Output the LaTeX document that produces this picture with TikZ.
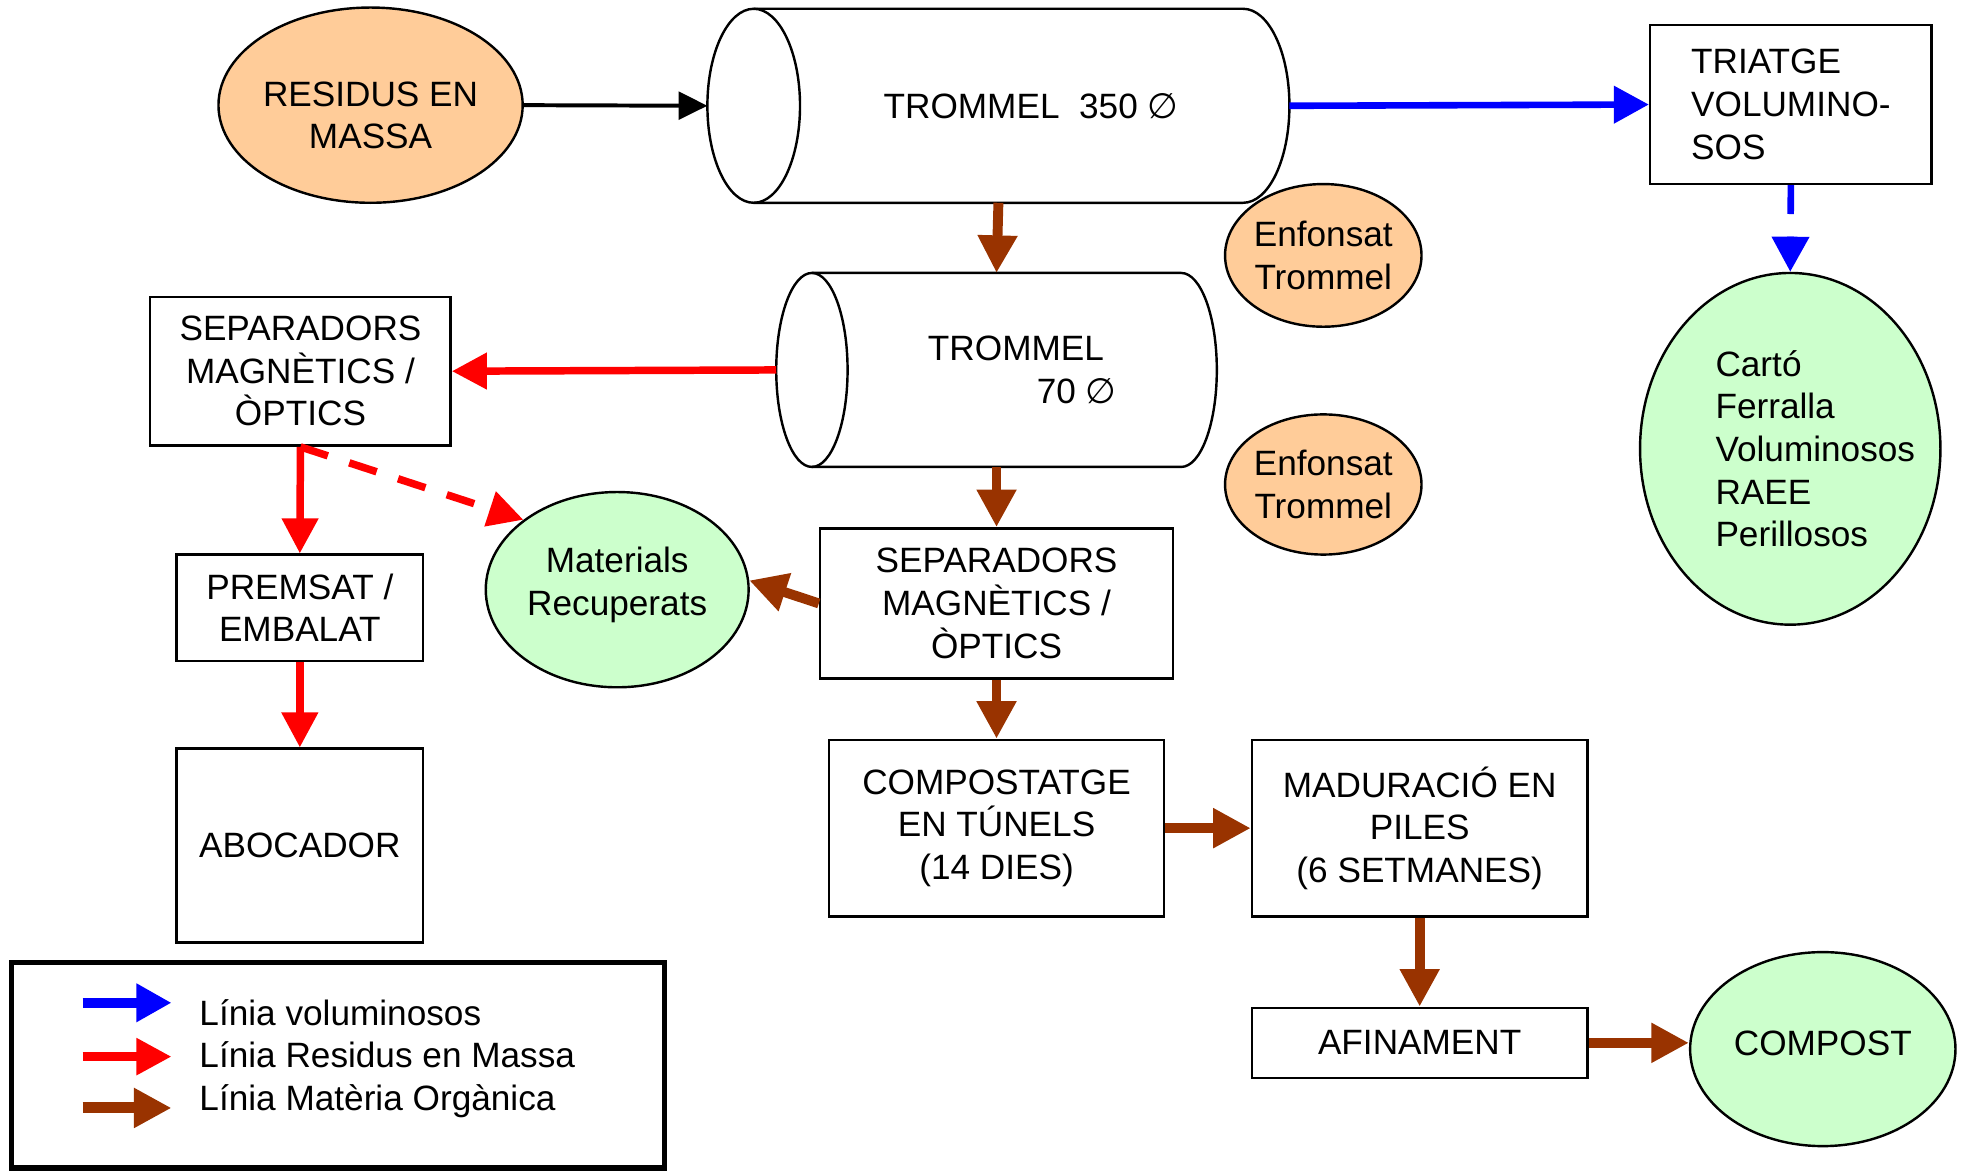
\documentclass[tikz,border=0pt]{standalone}
\usepackage{fontspec}
\setmainfont{Liberation Sans}
\newfontfamily\symb{DejaVu Sans}
\usetikzlibrary{arrows.meta}
\usetikzlibrary{shapes.geometric}

\definecolor{peach}{HTML}{FFCC99}
\definecolor{mint}{HTML}{CCFFCC}
\definecolor{organicbrown}{HTML}{993300}

% outline of a lying drum over a named node: node, x radius, y radius
\newcommand{\drumshape}[3]{%
	\draw[line width=1.1pt] ([xshift=#2]#1.north west) -- ([xshift=-#2]#1.north east)
		arc[start angle=90,end angle=-90,x radius=#2,y radius=#3] -- ([xshift=#2]#1.south west);
	\draw[line width=1.1pt] ([xshift=#2]#1.west) ellipse[x radius=#2,y radius=#3];}

\begin{document}
\begin{tikzpicture}[x=0.02cm,y=-0.02cm,
	font=\fontsize{16}{19.4}\selectfont,
	box/.style={draw,line width=1.1pt,rectangle,align=center,inner sep=0pt},
	blob/.style={draw,line width=1.1pt,ellipse,align=center,inner sep=0pt},
	drum/.style={rectangle,inner sep=0pt,outer sep=0pt},
	organic/.style={organicbrown,line width=4.5pt,-{Triangle[length=0.6cm,width=0.6cm]}},
	mass/.style={red,line width=3.4pt,-{Triangle[length=0.56cm,width=0.56cm]}},
	bulky/.style={blue,line width=3pt,-{Triangle[length=0.56cm,width=0.58cm]}},
	broken/.style={dash pattern=on 0.46cm off 0.36cm}]
	\useasboundingbox (0,0) rectangle (1568,936);

	% top row
	\node[blob,fill=peach,minimum width=4.8cm,minimum height=3.12cm,text height=1.4cm] (residus) at (296,84) {RESIDUS EN\\MASSA};
	\node[drum,minimum width=9.3cm,minimum height=3.1cm,
		label={[xshift=0.52cm]center:TROMMEL\ \ 350 {\symb ∅}}] (tromgran) at (797.5,84.5) {};
	\drumshape{tromgran}{0.74cm}{1.55cm}
	\node[box,align=left,minimum width=4.5cm,minimum height=2.54cm] (triatge) at (1430.5,83.5) {TRIATGE\\VOLUMINO-\\SOS};
	\node[blob,fill=mint,minimum width=4.8cm,minimum height=5.62cm,
		label={[align=left,xshift=0.4cm]center:Cartó\\Ferralla\\Voluminosos\\RAEE\\Perillosos}] (carto) at (1430,358.5) {};
	\node[blob,fill=peach,minimum width=3.08cm,minimum height=2.28cm] (enfgran) at (1057,204) {Enfonsat\\Trommel};
	\node[blob,fill=peach,minimum width=3.08cm,minimum height=2.24cm] (enffino) at (1057,387) {Enfonsat\\Trommel};

	% second drum and its lines
	\node[drum,minimum width=7.04cm,minimum height=3.1cm,
		label={[align=left,xshift=0.41cm]center:TROMMEL\\\hspace*{1.74cm}70 {\symb ∅}}] (tromfino) at (796,295.5) {};
	\drumshape{tromfino}{0.57cm}{1.55cm}
	\node[box,minimum width=4.8cm,minimum height=2.38cm] (sepmassa) at (240,296.5) {SEPARADORS\\MAGNÈTICS /\\ÒPTICS};
	\node[box,minimum width=3.94cm,minimum height=1.7cm] (premsat) at (239.5,485.5) {PREMSAT /\\EMBALAT};
	\node[box,minimum width=3.94cm,minimum height=3.1cm] (abocador) at (239.5,675.5) {ABOCADOR};
	\node[blob,fill=mint,minimum width=4.2cm,minimum height=3.12cm,text depth=0.26cm] (materials) at (493,471) {Materials\\Recuperats};
	\node[box,minimum width=5.64cm,minimum height=2.4cm] (seporg) at (796,482) {SEPARADORS\\MAGNÈTICS /\\ÒPTICS};
	\node[box,minimum width=5.36cm,minimum height=2.82cm] (tunels) at (796,661.5) {COMPOSTATGE\\EN TÚNELS\\(14 DIES)};
	\node[box,minimum width=5.36cm,minimum height=2.82cm] (piles) at (1134,661.5) {MADURACIÓ EN\\PILES\\(6 SETMANES)};
	\node[box,minimum width=5.36cm,minimum height=1.12cm] (afinament) at (1134,833) {AFINAMENT};
	\node[blob,fill=mint,minimum width=4.24cm,minimum height=3.1cm,text depth=0.2cm] (compost) at (1456,838) {COMPOST};

	% connectors
	\path[black,line width=1.8pt,-{Triangle[length=0.46cm,width=0.44cm]}]
		(residus.east) edge (tromgran.west);
	\path[bulky]	(tromgran.east) edge (triatge.west)
			(triatge.south) edge[broken] (carto.north);
	\path[mass]	(tromfino.west) edge (sepmassa.east)
			(sepmassa.south) edge (premsat.north)
			(premsat.south) edge (abocador.north)
			(sepmassa.south) edge[broken] (materials.north west);
	\path[organic]	(tromgran.south) edge (tromfino.north)
			(tromfino.south) edge (seporg.north)
			(seporg.west) edge (materials.4)
			(seporg.south) edge (tunels.north)
			(tunels.east) edge (piles.west)
			(piles.south) edge (afinament.north)
			(afinament.east) edge (afinament.east -| compost.west);

	% legend
	\node[draw,line width=2.3pt,minimum width=10.44cm,minimum height=3.28cm,inner sep=0pt] (legend) at (270,851) {};
	\coordinate (bluefrom) at (66,801);
	\coordinate (blueto) at (137,801);
	\coordinate (redfrom) at (66,844);
	\coordinate (redto) at (137,844);
	\coordinate (brownfrom) at (66,885);
	\coordinate (brownto) at (137,885);
	\path[bulky,line width=4.5pt] (bluefrom) edge (blueto);
	\path[mass,line width=3.8pt] (redfrom) edge (redto);
	\path[organic,line width=5pt] (brownfrom) edge (brownto);
	\node[anchor=base west,inner sep=0pt] (txtblue) at (159,819) {Línia voluminosos};
	\node[anchor=base west,inner sep=0pt] (txtred) at (159,853) {Línia Residus en Massa};
	\node[anchor=base west,inner sep=0pt] (txtbrown) at (159,887) {Línia Matèria Orgànica};
\end{tikzpicture}
\end{document}
